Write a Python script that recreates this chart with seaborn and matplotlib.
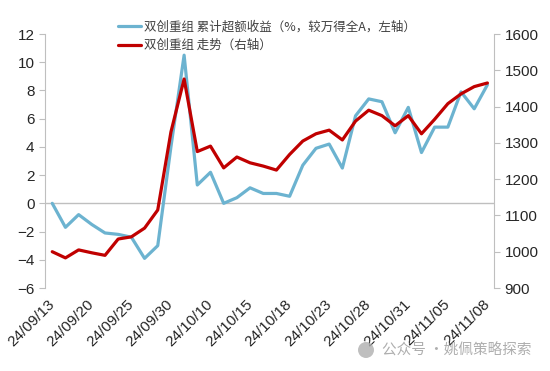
import numpy as np
import pandas as pd
import matplotlib
matplotlib.use("Agg")
import matplotlib.pyplot as plt
import matplotlib.patches as mpatches
import seaborn as sns

# ── Data ──────────────────────────────────────────────────
dates = ["24/09/13", "24/09/18", "24/09/19", "24/09/20", "24/09/23", "24/09/24",
         "24/09/25", "24/09/26", "24/09/27", "24/09/30", "24/10/08", "24/10/09",
         "24/10/10", "24/10/11", "24/10/14", "24/10/15", "24/10/16", "24/10/17",
         "24/10/18", "24/10/21", "24/10/22", "24/10/23", "24/10/24", "24/10/25",
         "24/10/28", "24/10/29", "24/10/30", "24/10/31", "24/11/01", "24/11/04",
         "24/11/05", "24/11/06", "24/11/07", "24/11/08"]
excess = [0.0, -1.7, -0.8, -1.5, -2.1, -2.2, -2.4, -3.9, -3.0, 4.0,
          10.5, 1.3, 2.2, 0.0, 0.4, 1.1, 0.7, 0.7, 0.5, 2.7,
          3.9, 4.2, 2.5, 6.2, 7.4, 7.2, 5.0, 6.8, 3.6, 5.4,
          5.4, 7.9, 6.7, 8.4]
index_lvl = [1000, 983, 1005, 997, 990, 1035, 1041, 1065, 1115, 1330,
             1476, 1276, 1291, 1231, 1261, 1245, 1236, 1225, 1268, 1305,
             1325, 1335, 1308, 1360, 1390, 1375, 1347, 1375, 1325, 1365,
             1408, 1435, 1455, 1465]
label_excess = "双创重组 累计超额收益（%，较万得全A，左轴）"
label_index = "双创重组 走势（右轴）"

BLUE = "#6CB3D0"
RED = "#C00000"
GRAY = "#BFBFBF"

df = pd.DataFrame({"x": np.arange(len(dates)), "excess": excess, "index": index_lvl})

sns.set_style("white")
plt.rcParams["font.family"] = ["Liberation Sans", "Noto Sans CJK SC", "DejaVu Sans"]

fig = plt.figure(figsize=(5.5, 3.71), dpi=100)
ax = fig.add_axes([45 / 550, 1 - 288 / 371, 449 / 550, 254 / 371])
ax2 = ax.twinx()

sns.lineplot(data=df, x="x", y="excess", ax=ax, color=BLUE, lw=2.3,
             label=label_excess, legend=False)
sns.lineplot(data=df, x="x", y="index", ax=ax2, color=RED, lw=2.3,
             label=label_index, legend=False)
ax.axhline(0, color=GRAY, lw=1, zorder=0)

ax.set_xlim(-0.55, len(dates) - 0.5)
ax.set_ylim(-6, 12)
ax.set_yticks(range(-6, 13, 2))
ax2.set_ylim(900, 1600)
ax2.set_yticks(range(900, 1601, 100))

ticks = list(range(0, len(dates), 3))
ax.set_xticks(ticks)
ax.set_xticklabels([dates[i] for i in ticks], rotation=45, ha="right",
                   va="center", rotation_mode="anchor", fontsize=11)
ax.tick_params(axis="x", length=0, pad=10)
ax.tick_params(axis="y", length=4, color=GRAY, labelsize=11, direction="out", left=True)
ax2.tick_params(axis="y", length=4, color=GRAY, labelsize=11, direction="out", right=True)
ax.set_xlabel(""); ax.set_ylabel(""); ax2.set_ylabel("")

for a in (ax, ax2):
    for s in ("top", "bottom"):
        a.spines[s].set_visible(False)
ax.spines["right"].set_visible(False)
ax2.spines["left"].set_visible(False)
ax.spines["left"].set_color(GRAY)
ax2.spines["right"].set_color(GRAY)

h1, l1 = ax.get_legend_handles_labels()
h2, l2 = ax2.get_legend_handles_labels()
leg = fig.legend(h1 + h2, l1 + l2, loc="upper left", bbox_to_anchor=(107 / 550, 1 - 9 / 371),
                 frameon=False, handlelength=1.8, handletextpad=0.25, labelspacing=0.45,
                 prop={"family": ["Noto Sans CJK SC"], "size": 9})
for t in leg.get_texts():
    t.set_color("#404040")

# watermark
fig.patches.append(mpatches.Ellipse((366 / 550, 1 - 350 / 371), 16 / 550, 16 / 371,
                                    transform=fig.transFigure, facecolor="#B0B0B0",
                                    edgecolor="none", alpha=0.8))
fig.text(382 / 550, 1 - 350 / 371, "公众号 ·姚佩策略探索", fontsize=10.5, color="#9A9A9A",
         alpha=0.8, va="center", family=["Noto Sans CJK SC"])

fig.savefig("out.png", dpi=100, facecolor="white")
